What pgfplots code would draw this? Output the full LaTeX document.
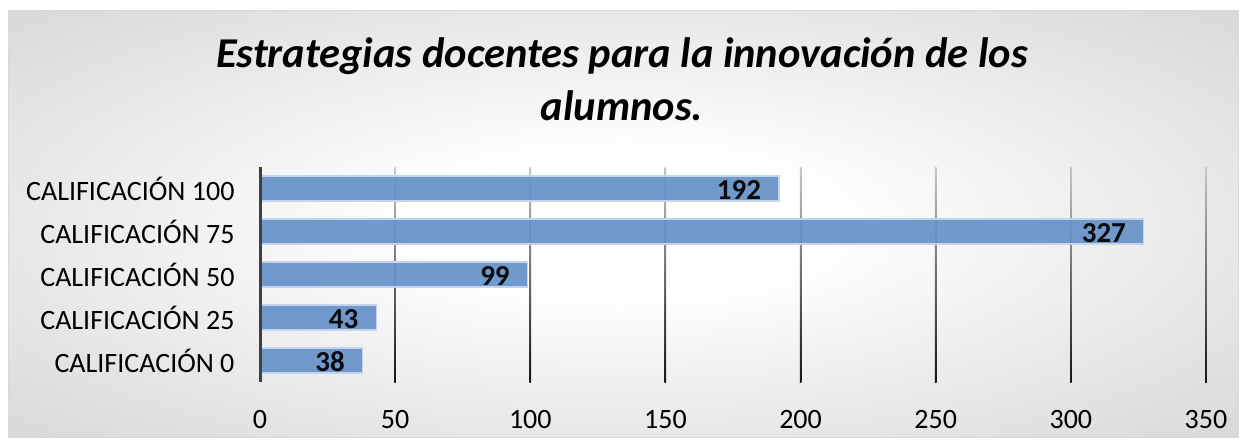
\documentclass[border=0pt]{standalone}
\usepackage{fontspec}
\setmainfont{Carlito}
\usepackage{pgfplots}
\pgfplotsset{compat=1.18}
\definecolor{barblue}{HTML}{6691C7}
\definecolor{baredge}{HTML}{C3D5EC}
\definecolor{gridtop}{HTML}{C8C8C8}
\definecolor{gridbot}{HTML}{151515}
\definecolor{axisc}{HTML}{404040}
\definecolor{framec}{HTML}{D9D9D9}
\definecolor{bgouter}{HTML}{C4C4C4}
\pgfdeclareradialshading{bgshade}{\pgfpoint{0bp}{0bp}}{color(0bp)=(white); color(8bp)=(white); color(50bp)=(bgouter); color(80bp)=(bgouter)}
\begin{document}
\begin{tikzpicture}
\path[use as bounding box, fill=white] (0pt,0pt) rectangle (1246pt,-447pt);
\shade[shading=bgshade, draw=framec, line width=1pt] (8pt,-10pt) rectangle (1238pt,-437pt);
\node[font=\fontsize{42.5}{53}\selectfont\bfseries\itshape, align=center] at (622pt,-79pt)
  {Estrategias docentes para la innovación de los\\alumnos.};
\begin{axis}[
  at={(260pt,-382pt)}, anchor=south west,
  scale only axis, width=946pt, height=215pt,
  xbar, bar width=25pt,
  xmin=0, xmax=350, ymin=-0.5, ymax=4.5,
  xtick={0,50,...,350},
  ytick={0,1,2,3,4},
  yticklabels={CALIFICACIÓN 0,CALIFICACIÓN 25,CALIFICACIÓN 50,CALIFICACIÓN 75,CALIFICACIÓN 100},
  ticklabel style={font=\fontsize{28}{32}\selectfont, text=black},
  /pgf/number format/assume math mode=true,
  xticklabel style={yshift=-25pt},
  yticklabel style={xshift=-22pt},
  major tick length=0pt,
  tick style={draw=none},
  separate axis lines,
  axis y line*=left,
  axis x line*=bottom,
  y axis line style={draw=none},
  x axis line style={draw=none},
  nodes near coords,
  nodes near coords style={font=\fontsize{29}{32}\selectfont\bfseries, text=black, anchor=east, xshift=-14pt, yshift=-1.5pt},
  point meta=x,
  clip=false,
]
\pgfplotsinvokeforeach{50,100,...,350}{
  \shade[top color=gridtop, bottom color=gridbot]
    ([xshift=-0.8pt]axis cs:#1,4.5) rectangle ([xshift=0.8pt]axis cs:#1,-0.5);
}
\addplot[fill=barblue, fill opacity=0.92, draw=baredge, line width=1.2pt] coordinates {
  (38,0) (43,1) (99,2) (327,3) (192,4)
};
\draw[axisc, line width=3pt] (axis cs:0,4.5) -- (axis cs:0,-0.5);
\end{axis}
\end{tikzpicture}
\end{document}
